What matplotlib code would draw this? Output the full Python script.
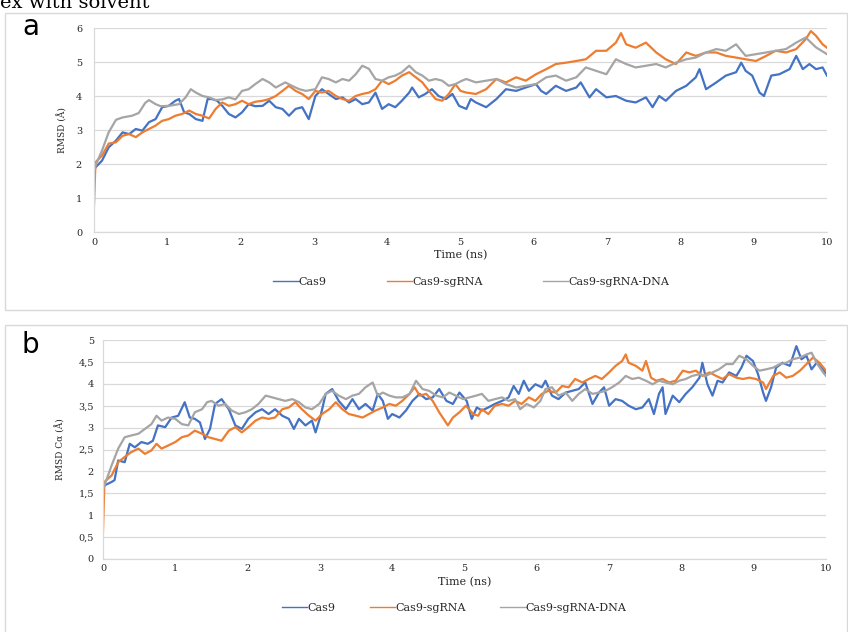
import matplotlib
matplotlib.use("Agg")
import matplotlib.pyplot as plt
from matplotlib.patches import Rectangle
from matplotlib.lines import Line2D

# ---------------- data ----------------
series_labels = ["Cas9", "Cas9-sgRNA", "Cas9-sgRNA-DNA"]
series_colors = ["#4472C4", "#ED7D31", "#A5A5A5"]

x_ticks = [0, 1, 2, 3, 4, 5, 6, 7, 8, 9, 10]
x_ticklabels = ["0", "1", "2", "3", "4", "5", "6", "7", "8", "9", "10"]
a_yticks = [0, 1, 2, 3, 4, 5, 6]
a_yticklabels = ["0", "1", "2", "3", "4", "5", "6"]
b_yticks = [0, 0.5, 1, 1.5, 2, 2.5, 3, 3.5, 4, 4.5, 5]
b_yticklabels = ["0", "0,5", "1", "1,5", "2", "2,5", "3", "3,5", "4", "4,5", "5"]

# panel a : RMSD (Å)  -- (time ns, value)
a_cas9 = [(0, 1.75), (0.02, 1.9), (0.11, 2.1), (0.2, 2.49), (0.3, 2.69), (0.39, 2.93), (0.48, 2.88), (0.57, 3.03),
          (0.66, 2.98), (0.75, 3.23), (0.84, 3.32), (0.93, 3.67), (1.02, 3.71), (1.11, 3.86), (1.16, 3.91), (1.23, 3.52),
          (1.3, 3.47), (1.39, 3.32), (1.48, 3.27), (1.55, 3.91), (1.61, 3.91), (1.68, 3.86), (1.75, 3.71), (1.84, 3.47),
          (1.93, 3.37), (2.02, 3.52), (2.11, 3.76), (2.2, 3.7), (2.3, 3.71), (2.39, 3.86), (2.48, 3.67), (2.57, 3.62),
          (2.66, 3.42), (2.75, 3.62), (2.84, 3.67), (2.93, 3.32), (3.02, 4.0), (3.11, 4.2), (3.2, 4.06), (3.3, 3.91),
          (3.39, 3.96), (3.48, 3.81), (3.57, 3.91), (3.66, 3.76), (3.75, 3.81), (3.84, 4.1), (3.93, 3.62), (4.02, 3.76),
          (4.11, 3.67), (4.2, 3.86), (4.3, 4.1), (4.34, 4.25), (4.43, 3.96), (4.52, 4.06), (4.61, 4.2), (4.7, 4.0),
          (4.8, 3.91), (4.89, 4.06), (4.98, 3.71), (5.08, 3.62), (5.14, 3.91), (5.21, 3.81), (5.35, 3.67), (5.49, 3.91),
          (5.62, 4.2), (5.76, 4.15), (5.89, 4.25), (6.03, 4.35), (6.1, 4.15), (6.17, 4.06), (6.3, 4.3), (6.44, 4.15),
          (6.58, 4.25), (6.64, 4.4), (6.76, 3.96), (6.85, 4.2), (6.99, 3.96), (7.12, 4.0), (7.26, 3.86), (7.39, 3.81),
          (7.53, 3.96), (7.62, 3.67), (7.71, 4.0), (7.8, 3.86), (7.94, 4.15), (8.08, 4.3), (8.21, 4.55), (8.26, 4.79),
          (8.35, 4.2), (8.49, 4.4), (8.62, 4.6), (8.76, 4.7), (8.83, 4.98), (8.89, 4.74), (8.98, 4.6), (9.08, 4.1),
          (9.14, 4.0), (9.24, 4.6), (9.35, 4.64), (9.49, 4.79), (9.58, 5.18), (9.67, 4.79), (9.76, 4.94), (9.85, 4.79),
          (9.94, 4.84), (10.0, 4.6)]
a_sgrna = [(0, 0.78), (0.02, 2.05), (0.11, 2.25), (0.2, 2.6), (0.3, 2.64), (0.39, 2.83), (0.48, 2.88), (0.57, 2.79),
           (0.66, 2.93), (0.75, 3.03), (0.84, 3.13), (0.93, 3.27), (1.02, 3.32), (1.11, 3.42), (1.2, 3.47), (1.3, 3.57),
           (1.39, 3.47), (1.48, 3.42), (1.57, 3.34), (1.66, 3.62), (1.75, 3.81), (1.84, 3.71), (1.93, 3.76), (2.02, 3.86),
           (2.11, 3.76), (2.2, 3.83), (2.3, 3.86), (2.39, 3.91), (2.48, 4.0), (2.57, 4.15), (2.66, 4.3), (2.75, 4.15),
           (2.84, 4.06), (2.93, 3.91), (3.02, 4.15), (3.11, 4.1), (3.2, 4.15), (3.3, 4.0), (3.39, 3.91), (3.48, 3.86),
           (3.57, 4.0), (3.66, 4.06), (3.75, 4.1), (3.84, 4.2), (3.93, 4.45), (4.02, 4.35), (4.11, 4.45), (4.2, 4.6),
           (4.3, 4.7), (4.39, 4.55), (4.48, 4.4), (4.57, 4.15), (4.66, 3.91), (4.75, 3.86), (4.84, 4.06), (4.93, 4.35),
           (5.0, 4.15), (5.08, 4.1), (5.21, 4.06), (5.35, 4.2), (5.49, 4.5), (5.62, 4.4), (5.76, 4.55), (5.89, 4.45),
           (6.03, 4.64), (6.17, 4.79), (6.3, 4.94), (6.44, 4.98), (6.58, 5.03), (6.71, 5.08), (6.85, 5.33), (6.99, 5.33),
           (7.12, 5.57), (7.19, 5.85), (7.26, 5.52), (7.39, 5.42), (7.53, 5.57), (7.67, 5.28), (7.8, 5.08), (7.94, 4.94),
           (8.08, 5.28), (8.21, 5.18), (8.35, 5.28), (8.49, 5.28), (8.62, 5.18), (8.76, 5.13), (8.89, 5.08), (9.03, 5.03),
           (9.17, 5.18), (9.3, 5.33), (9.44, 5.28), (9.58, 5.38), (9.71, 5.67), (9.78, 5.91), (9.85, 5.77), (9.94, 5.52),
           (10.0, 5.42)]
a_dna = [(0, 1.8), (0.02, 1.95), (0.11, 2.4), (0.2, 2.93), (0.3, 3.3), (0.39, 3.37), (0.52, 3.42), (0.61, 3.5),
         (0.7, 3.8), (0.75, 3.88), (0.84, 3.76), (0.91, 3.7), (1.02, 3.71), (1.16, 3.76), (1.25, 3.96), (1.32, 4.2),
         (1.39, 4.1), (1.48, 4.0), (1.57, 3.96), (1.66, 3.88), (1.75, 3.9), (1.84, 3.96), (1.93, 3.9), (2.02, 4.15),
         (2.11, 4.2), (2.2, 4.35), (2.3, 4.5), (2.39, 4.4), (2.48, 4.25), (2.61, 4.4), (2.7, 4.3), (2.8, 4.2),
         (2.89, 4.15), (3.02, 4.2), (3.11, 4.55), (3.2, 4.5), (3.3, 4.4), (3.39, 4.5), (3.48, 4.45), (3.57, 4.64),
         (3.66, 4.89), (3.75, 4.8), (3.84, 4.5), (3.93, 4.45), (4.02, 4.55), (4.11, 4.6), (4.2, 4.7), (4.3, 4.89),
         (4.39, 4.7), (4.48, 4.6), (4.57, 4.45), (4.66, 4.5), (4.75, 4.45), (4.84, 4.3), (4.93, 4.35), (5.02, 4.45),
         (5.08, 4.5), (5.21, 4.4), (5.35, 4.45), (5.49, 4.5), (5.62, 4.35), (5.76, 4.25), (5.89, 4.3), (6.03, 4.35),
         (6.17, 4.55), (6.3, 4.6), (6.44, 4.45), (6.58, 4.55), (6.71, 4.84), (6.85, 4.74), (6.99, 4.64), (7.12, 5.08),
         (7.26, 4.94), (7.39, 4.84), (7.53, 4.89), (7.67, 4.94), (7.8, 4.84), (7.94, 4.98), (8.08, 5.08), (8.21, 5.13),
         (8.35, 5.28), (8.49, 5.38), (8.62, 5.33), (8.76, 5.52), (8.89, 5.18), (9.03, 5.23), (9.17, 5.28), (9.3, 5.33),
         (9.44, 5.38), (9.58, 5.57), (9.71, 5.72), (9.85, 5.43), (10.0, 5.23)]

# panel b : RMSD Cα (Å)
b_cas9 = [(0, 1.55), (0.02, 1.68), (0.12, 1.76), (0.16, 1.8), (0.21, 2.25), (0.3, 2.21), (0.37, 2.63), (0.44, 2.55),
          (0.53, 2.67), (0.62, 2.63), (0.69, 2.7), (0.76, 3.05), (0.86, 3.01), (0.95, 3.23), (1.04, 3.27), (1.13, 3.58),
          (1.2, 3.23), (1.27, 3.2), (1.34, 3.12), (1.41, 2.74), (1.48, 2.97), (1.55, 3.54), (1.64, 3.65), (1.74, 3.42),
          (1.83, 3.05), (1.92, 2.97), (2.01, 3.2), (2.11, 3.35), (2.2, 3.42), (2.29, 3.31), (2.38, 3.42), (2.48, 3.27),
          (2.57, 3.2), (2.64, 2.97), (2.71, 3.2), (2.8, 3.05), (2.89, 3.16), (2.94, 2.89), (3.01, 3.27), (3.08, 3.77),
          (3.17, 3.88), (3.26, 3.61), (3.36, 3.42), (3.45, 3.65), (3.54, 3.42), (3.63, 3.54), (3.73, 3.39), (3.8, 3.77),
          (3.87, 3.61), (3.94, 3.2), (4.0, 3.31), (4.1, 3.23), (4.19, 3.39), (4.28, 3.61), (4.38, 3.77), (4.47, 3.65),
          (4.56, 3.69), (4.65, 3.88), (4.75, 3.61), (4.84, 3.54), (4.93, 3.8), (5.03, 3.61), (5.1, 3.2), (5.17, 3.46),
          (5.24, 3.39), (5.33, 3.46), (5.42, 3.54), (5.52, 3.61), (5.61, 3.69), (5.68, 3.95), (5.75, 3.77), (5.82, 4.07),
          (5.89, 3.84), (5.98, 3.99), (6.07, 3.92), (6.12, 4.07), (6.21, 3.73), (6.3, 3.65), (6.4, 3.8), (6.49, 3.84),
          (6.58, 3.88), (6.67, 4.03), (6.77, 3.54), (6.86, 3.8), (6.93, 3.92), (7.0, 3.5), (7.09, 3.65), (7.18, 3.61),
          (7.27, 3.5), (7.37, 3.42), (7.46, 3.46), (7.55, 3.65), (7.62, 3.31), (7.69, 3.77), (7.74, 3.92), (7.78, 3.31),
          (7.88, 3.73), (7.97, 3.58), (8.06, 3.77), (8.15, 3.92), (8.25, 4.14), (8.29, 4.48), (8.36, 3.99), (8.43, 3.73),
          (8.5, 4.07), (8.57, 4.03), (8.66, 4.26), (8.76, 4.18), (8.83, 4.37), (8.9, 4.64), (8.99, 4.52), (9.06, 4.22),
          (9.13, 3.8), (9.17, 3.61), (9.24, 3.92), (9.31, 4.37), (9.4, 4.48), (9.5, 4.41), (9.59, 4.86), (9.66, 4.56),
          (9.73, 4.64), (9.8, 4.33), (9.87, 4.48), (9.96, 4.33), (10.0, 4.22)]
b_sgrna = [(0, 0.63), (0.02, 1.76), (0.12, 1.91), (0.21, 2.21), (0.3, 2.33), (0.39, 2.44), (0.49, 2.52), (0.58, 2.4),
           (0.67, 2.48), (0.74, 2.63), (0.81, 2.52), (0.9, 2.59), (1.0, 2.67), (1.09, 2.78), (1.18, 2.82), (1.27, 2.93),
           (1.37, 2.86), (1.46, 2.78), (1.55, 2.74), (1.64, 2.7), (1.74, 2.93), (1.83, 3.01), (1.92, 2.89), (2.01, 3.01),
           (2.11, 3.16), (2.2, 3.23), (2.29, 3.2), (2.38, 3.23), (2.48, 3.42), (2.57, 3.46), (2.66, 3.58), (2.75, 3.42),
           (2.85, 3.27), (2.94, 3.16), (3.03, 3.31), (3.13, 3.42), (3.22, 3.58), (3.31, 3.42), (3.4, 3.31), (3.5, 3.27),
           (3.59, 3.23), (3.68, 3.31), (3.77, 3.39), (3.87, 3.46), (3.96, 3.54), (4.05, 3.5), (4.14, 3.61), (4.24, 3.77),
           (4.31, 3.92), (4.38, 3.73), (4.47, 3.77), (4.56, 3.61), (4.65, 3.35), (4.77, 3.05), (4.84, 3.23), (4.93, 3.35),
           (5.02, 3.5), (5.12, 3.31), (5.19, 3.27), (5.24, 3.42), (5.33, 3.31), (5.42, 3.5), (5.52, 3.54), (5.61, 3.5),
           (5.7, 3.61), (5.79, 3.54), (5.89, 3.69), (5.98, 3.61), (6.07, 3.77), (6.16, 3.84), (6.26, 3.8), (6.35, 3.95),
           (6.44, 3.92), (6.53, 4.11), (6.63, 4.03), (6.72, 4.11), (6.81, 4.18), (6.9, 4.11), (7.0, 4.26), (7.09, 4.41),
           (7.18, 4.52), (7.23, 4.67), (7.27, 4.48), (7.37, 4.41), (7.46, 4.3), (7.51, 4.52), (7.58, 4.14), (7.65, 4.07),
           (7.74, 4.11), (7.83, 4.03), (7.92, 4.07), (8.02, 4.3), (8.11, 4.26), (8.2, 4.3), (8.29, 4.18), (8.39, 4.26),
           (8.48, 4.18), (8.57, 4.11), (8.66, 4.22), (8.76, 4.14), (8.85, 4.11), (8.94, 4.14), (9.03, 4.11), (9.13, 4.03),
           (9.17, 3.88), (9.27, 4.18), (9.36, 4.26), (9.45, 4.14), (9.54, 4.18), (9.64, 4.3), (9.73, 4.45), (9.82, 4.6),
           (9.91, 4.48), (10.0, 4.3)]
b_dna = [(0, 1.6), (0.02, 1.68), (0.12, 2.14), (0.21, 2.52), (0.3, 2.78), (0.39, 2.82), (0.49, 2.86), (0.58, 2.97),
         (0.67, 3.08), (0.74, 3.27), (0.81, 3.16), (0.9, 3.23), (1.0, 3.2), (1.09, 3.08), (1.18, 3.05), (1.27, 3.35),
         (1.37, 3.42), (1.44, 3.58), (1.5, 3.61), (1.6, 3.5), (1.69, 3.54), (1.78, 3.39), (1.88, 3.31), (1.97, 3.35),
         (2.06, 3.42), (2.15, 3.54), (2.25, 3.73), (2.34, 3.69), (2.43, 3.65), (2.52, 3.61), (2.62, 3.65), (2.71, 3.58),
         (2.8, 3.46), (2.89, 3.42), (2.99, 3.54), (3.08, 3.77), (3.17, 3.84), (3.26, 3.73), (3.36, 3.65), (3.45, 3.73),
         (3.54, 3.77), (3.63, 3.92), (3.73, 4.03), (3.8, 3.73), (3.87, 3.8), (3.96, 3.73), (4.05, 3.69), (4.14, 3.69),
         (4.24, 3.77), (4.33, 4.07), (4.42, 3.88), (4.51, 3.84), (4.61, 3.73), (4.7, 3.69), (4.79, 3.8), (4.88, 3.73),
         (4.98, 3.65), (5.07, 3.69), (5.16, 3.73), (5.24, 3.77), (5.33, 3.61), (5.42, 3.65), (5.52, 3.69), (5.61, 3.61),
         (5.7, 3.65), (5.77, 3.42), (5.86, 3.54), (5.96, 3.46), (6.05, 3.61), (6.12, 3.88), (6.21, 3.92), (6.3, 3.73),
         (6.4, 3.8), (6.49, 3.61), (6.58, 3.77), (6.67, 3.88), (6.77, 3.77), (6.86, 3.8), (6.95, 3.84), (7.04, 3.92),
         (7.14, 4.03), (7.23, 4.18), (7.32, 4.11), (7.41, 4.14), (7.51, 4.07), (7.6, 3.99), (7.69, 4.07), (7.78, 4.03),
         (7.88, 3.99), (7.97, 4.07), (8.06, 4.11), (8.15, 4.18), (8.25, 4.22), (8.34, 4.18), (8.43, 4.26), (8.52, 4.33),
         (8.62, 4.45), (8.71, 4.45), (8.8, 4.64), (8.9, 4.56), (8.99, 4.41), (9.08, 4.3), (9.17, 4.33), (9.27, 4.37),
         (9.36, 4.45), (9.45, 4.48), (9.54, 4.56), (9.64, 4.6), (9.73, 4.67), (9.8, 4.71), (9.87, 4.48), (9.96, 4.26),
         (10.0, 4.18)]

# ---------------- layout helpers ----------------
W, H = 848, 632
fig = plt.figure(figsize=(W / 100, H / 100), dpi=100)
fig.patch.set_facecolor("white")


def fx(px):
    return px / W


def fy(py):
    return 1 - py / H


SERIF = "DejaVu Serif"
TXT = "#262626"
GRID = "#D9D9D9"

# caption fragment at the top (cut by the top edge, as in the source picture)
fig.text(fx(0), fy(7.5), "ex with solvent", ha="left", va="baseline",
         fontfamily=SERIF, fontsize=14, color="black")

# panel boxes
for top, bottom in [(13, 310), (325, 640)]:
    fig.add_artist(Rectangle((fx(5), fy(bottom)), fx(847) - fx(5), fy(top) - fy(bottom),
                             transform=fig.transFigure, fill=False, edgecolor=GRID, lw=1.0))


def make_panel(box, series, yticks, yticklabels, ylim, ylabel, ylab_x, xlab_y, ypad, xpad):
    left, top, right, bottom = box
    ax = fig.add_axes([fx(left), fy(bottom), fx(right) - fx(left), fy(top) - fy(bottom)])
    lines = []
    for data, col, lab in zip(series, series_colors, series_labels):
        t = [p[0] for p in data]
        v = [p[1] for p in data]
        ln, = ax.plot(t, v, color=col, lw=1.6, label=lab, solid_joinstyle="round")
        lines.append(ln)
    ax.set_xlim(0, 10)
    ax.set_ylim(*ylim)
    ax.set_xticks(x_ticks)
    ax.set_xticklabels(x_ticklabels)
    ax.set_yticks(yticks)
    ax.set_yticklabels(yticklabels)
    ax.yaxis.grid(True, color=GRID, lw=0.9)
    ax.set_axisbelow(True)
    for s in ["top", "right"]:
        ax.spines[s].set_visible(False)
    for s in ["left", "bottom"]:
        ax.spines[s].set_color(GRID)
        ax.spines[s].set_linewidth(0.9)
    ax.tick_params(axis="both", length=0, labelsize=7, labelcolor=TXT)
    ax.tick_params(axis="y", pad=ypad)
    ax.tick_params(axis="x", pad=xpad)
    for lab in ax.get_xticklabels() + ax.get_yticklabels():
        lab.set_fontfamily(SERIF)
    ax.set_ylabel(ylabel, fontfamily=SERIF, fontsize=6.5, color=TXT, va="center")
    ax.yaxis.set_label_coords(ylab_x, 0.5)
    ax.set_xlabel("Time (ns)", fontfamily=SERIF, fontsize=8, color=TXT, va="center")
    ax.xaxis.set_label_coords(0.5, xlab_y)
    return ax, lines


ax_a, lines_a = make_panel((94, 28, 827, 232), [a_cas9, a_sgrna, a_dna], a_yticks, a_yticklabels,
                           (0, 6), "RMSD (Å)", (62 - 94) / (827 - 94), (232 - 255) / (232 - 28), 8.6, 4.0)
ax_b, lines_b = make_panel((103, 340, 826, 559), [b_cas9, b_sgrna, b_dna], b_yticks, b_yticklabels,
                           (0, 5), "RMSD Cα (Å)", (60 - 103) / (826 - 103), (559 - 582) / (559 - 340), 6.5, 3.6)


def add_legend(center, colspace):
    handles = [Line2D([0], [0], color=c, lw=1.0) for c in series_colors]
    leg = fig.legend(handles, series_labels, loc="center", bbox_to_anchor=(fx(center[0]), fy(center[1])),
                     ncol=3, frameon=False, handlelength=2.3, handletextpad=0.0, columnspacing=colspace,
                     prop={"family": SERIF, "size": 8})
    for t in leg.get_texts():
        t.set_color(TXT)
    return leg


add_legend((471, 282), 5.4)
add_legend((454, 608), 3.1)

# panel letters
fig.text(fx(22), fy(35), "a", ha="left", va="baseline", fontfamily="DejaVu Sans", fontsize=20, color="black")
fig.text(fx(22), fy(353), "b", ha="left", va="baseline", fontfamily="DejaVu Sans", fontsize=20, color="black")

fig.savefig("out.png", dpi=100)
